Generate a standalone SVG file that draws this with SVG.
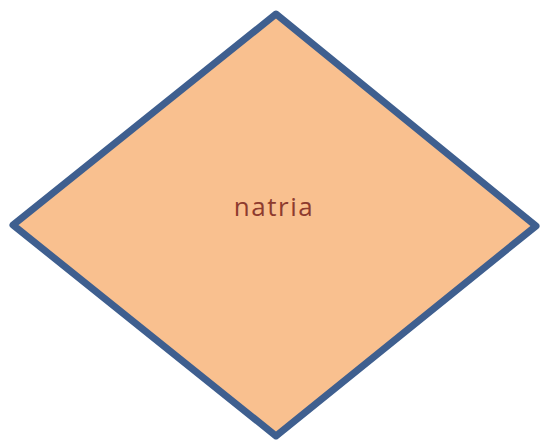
<svg xmlns="http://www.w3.org/2000/svg" width="542" height="441" viewBox="0 0 542 441">
<style>
.shape{fill:#F9C08F;stroke:#3F5F8F;stroke-width:7;stroke-linejoin:round}
.lbl{font-family:"Open Sans","Liberation Sans",sans-serif;font-size:26px;fill:#8E3B2E;text-anchor:middle;letter-spacing:1.5px}
</style>
<rect width="542" height="441" fill="#ffffff"/>
<g id="connectors"></g>
<g id="node-natria">
<polygon class="shape" points="276,14 536,226 276,436 13,225"/>
<text class="lbl" x="274" y="216">natria</text>
</g>
</svg>
